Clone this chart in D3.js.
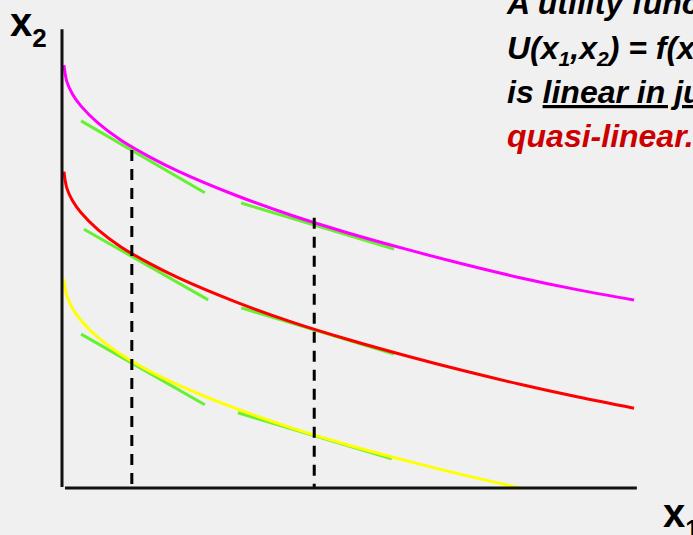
<!DOCTYPE html>
<html>
<head>
<meta charset="utf-8">
<script src="https://cdn.jsdelivr.net/npm/d3@7"></script>
<style>
  html, body { margin: 0; padding: 0; background: #f0f0f0; overflow: hidden; }
  svg { display: block; font-family: "Liberation Sans", Arial, sans-serif; }
</style>
</head>
<body>
<svg></svg>
<script>
// ---------- data ----------
// x1 sample positions shared by the three indifference curves
const curveX = [0, 0.05, 0.15, 0.3, 0.6, 1, 1.5, 2, 3, 4, 5, 6, 7, 8, 9, 10];
const magentaY = [7.42, 7.13, 6.91, 6.70, 6.40, 6.10, 5.81, 5.56, 5.14, 4.78, 4.47, 4.19, 3.93, 3.69, 3.48, 3.30];
const redY = [5.55, 5.26, 5.04, 4.83, 4.53, 4.23, 3.94, 3.69, 3.27, 2.91, 2.60, 2.32, 2.06, 1.82, 1.60, 1.40];
// yellow curve runs into the x1 axis before the end
const yellowX = [0, 0.05, 0.15, 0.3, 0.6, 1, 1.5, 2, 3, 4, 5, 6, 7, 8.01];
const yellowY = [3.66, 3.37, 3.15, 2.94, 2.64, 2.34, 2.05, 1.81, 1.40, 1.05, 0.75, 0.48, 0.23, 0.0];
const curveColors = ['#ff00ff', '#ff0000', '#ffff00'];

// green tangent segments [x1a, x2a, x1b, x2b]
const tangents = [
  [0.30, 6.44, 2.47, 5.18],
  [0.35, 4.54, 2.53, 3.30],
  [0.30, 2.70, 2.47, 1.46],
  [3.11, 5.00, 5.79, 4.19],
  [3.11, 3.16, 5.79, 2.35],
  [3.05, 1.32, 5.75, 0.51]
];

// dashed verticals: x1 value and height where they meet the top curve
const dashX = [1.19, 4.39];
const dashTop = [5.93, 4.74];

const size = {w: 693, h: 535};
const svg = d3.select('svg')
    .attr('width', size.w)
    .attr('height', size.h);

svg.append('rect')
    .attr('width', size.w)
    .attr('height', size.h)
    .attr('fill', '#f0f0f0');

// scales
const x = d3.scaleLinear().domain([0, 10]).range([64, 634]);
const y = d3.scaleLinear().domain([0, 8]).range([488, 32]);

const plotG = svg.append('g').classed('plot', true);

// tangents go under the curves
plotG.selectAll('line.tangent')
    .data(tangents)
    .join('line')
    .classed('tangent', true)
    .attr('x1', d => x(d[0]))
    .attr('y1', d => y(d[1]))
    .attr('x2', d => x(d[2]))
    .attr('y2', d => y(d[3]))
    .attr('stroke', '#66f033')
    .attr('stroke-width', 3);

// indifference curves
const curves = [
  curveX.map((v, i) => [v, magentaY[i]]),
  curveX.map((v, i) => [v, redY[i]]),
  yellowX.map((v, i) => [v, yellowY[i]])
];

const line = d3.line()
    .x(d => x(d[0]))
    .y(d => y(d[1]))
    .curve(d3.curveCatmullRom);

plotG.selectAll('path.curve')
    .data(curves)
    .join('path')
    .classed('curve', true)
    .attr('d', line)
    .attr('fill', 'none')
    .attr('stroke', (d, i) => curveColors[i])
    .attr('stroke-width', 3);

// dashed drop lines
plotG.selectAll('line.drop')
    .data(dashX)
    .join('line')
    .classed('drop', true)
    .attr('x1', d => x(d))
    .attr('x2', d => x(d))
    .attr('y1', (d, i) => y(dashTop[i]))
    .attr('y2', y(0))
    .attr('stroke', '#000')
    .attr('stroke-width', 3)
    .attr('stroke-dasharray', '11,8');

// axes (plain lines, no ticks)
const axisG = svg.append('g').classed('axes', true);
axisG.append('line')
    .attr('x1', x(0) - 2).attr('x2', x(0) - 2)
    .attr('y1', y(8.05)).attr('y2', y(0) - 1)
    .attr('stroke', '#111').attr('stroke-width', 3);
axisG.append('line')
    .attr('x1', x(0) + 1).attr('x2', x(10.05))
    .attr('y1', y(0)).attr('y2', y(0))
    .attr('stroke', '#111').attr('stroke-width', 3);

// axis labels
const lab2 = svg.append('text')
    .attr('x', 10).attr('y', 36)
    .attr('font-size', 40).attr('font-weight', 'bold');
lab2.append('tspan').text('x');
lab2.append('tspan').attr('font-size', 26).attr('dy', 11).text('2');

const lab1 = svg.append('text')
    .attr('x', 663).attr('y', 527)
    .attr('font-size', 40).attr('font-weight', 'bold');
lab1.append('tspan').text('x');
lab1.append('tspan').attr('font-size', 26).attr('dy', 11).text('1');

// explanatory text, clipped by the right edge as in the slide
const note = svg.append('g')
    .attr('font-size', 32)
    .attr('font-weight', 'bold')
    .attr('font-style', 'italic');

note.append('text').attr('x', 507).attr('y', 14)
    .text('A utility function of the form');

const t2 = note.append('text').attr('x', 507).attr('y', 59);
t2.append('tspan').text('U(x');
t2.append('tspan').attr('font-size', 21).attr('dy', 7).text('1');
t2.append('tspan').attr('dy', -7).text(',x');
t2.append('tspan').attr('font-size', 21).attr('dy', 7).text('2');
t2.append('tspan').attr('dy', -7).text(') = f(x');
t2.append('tspan').attr('font-size', 21).attr('dy', 7).text('1');
t2.append('tspan').attr('dy', -7).text(') + x');
t2.append('tspan').attr('font-size', 21).attr('dy', 7).text('2');

const t3 = note.append('text').attr('x', 507).attr('y', 103);
t3.append('tspan').text('is ');
t3.append('tspan').attr('text-decoration', 'underline').text('linear in just x');
t3.append('tspan').attr('font-size', 21).attr('dy', 7).text('2');
t3.append('tspan').attr('dy', -7).text(' and is called');

note.append('text').attr('x', 507).attr('y', 147)
    .attr('fill', '#cc0000')
    .text('quasi-linear.');
</script>
</body>
</html>
